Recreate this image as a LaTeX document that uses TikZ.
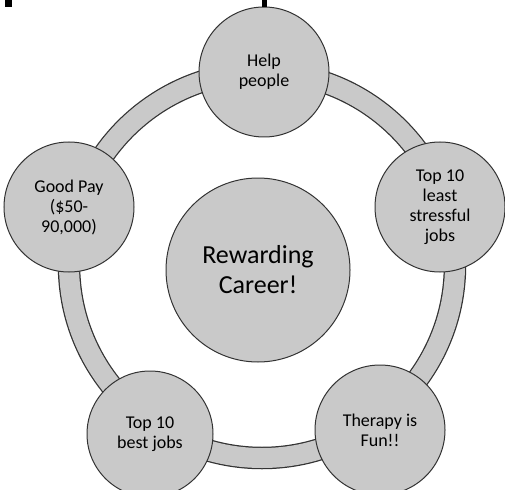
\documentclass[tikz,border=0pt]{standalone}
\usepackage{fontspec}
\setmainfont{Carlito}
\begin{document}
\begin{tikzpicture}[x=1pt,y=-1pt,
  bubble/.style={circle, draw=black!80, line width=1pt, fill=black!21, align=center,
    inner sep=0pt, minimum size=130pt, font=\fontsize{18}{20}\selectfont, text=black},
  hub/.style={bubble, minimum size=184pt, font=\fontsize{26}{30}\selectfont},
  ringedge/.style={draw=black!80, line width=22.5pt},
  ringfill/.style={draw=black!21, line width=20pt},
  speck/.style={fill=black}]
\useasboundingbox (0,0) rectangle (505,489);
\coordinate (rc) at (262,265);
\draw[ringedge] (rc) circle[radius=193];
\draw[ringfill] (rc) circle[radius=193];
\node[bubble] (help) at (264,72) {Help\\people};
\node[bubble] (pay) at (69,207) {Good Pay\\(\$50-\\90,000)};
\node[bubble] (least) at (440,207) {Top 10\\least\\stressful\\jobs};
\node[bubble, minimum size=126pt] (best) at (150,434) {Top 10\\best jobs};
\node[bubble] (fun) at (380,430) {Therapy is\\Fun!!};
\node[hub] (hub) at (258,270) {Rewarding\\Career!};
\fill[speck] (5,0) rectangle (12,7);
\fill[speck] (262,0) rectangle (267,7);
\end{tikzpicture}
\end{document}
